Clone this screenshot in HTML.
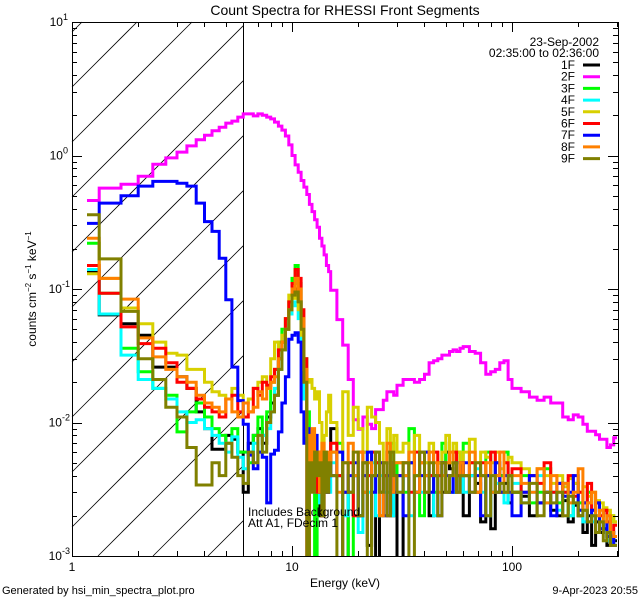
<!DOCTYPE html>
<html><head><meta charset="utf-8"><style>
html,body{margin:0;padding:0;background:#fff;overflow:hidden;width:640px;height:600px}
svg{display:block;overflow:hidden;font-family:"Liberation Sans",sans-serif}
</style></head><body>
<svg id="chart" width="640" height="600" viewBox="0 0 640 600">
<rect width="640" height="600" fill="#fff"/>
<text x="345" y="15" font-size="14" text-anchor="middle">Count Spectra for RHESSI Front Segments</text>
<g id="hatch"></g>
<g id="series"></g>
<g id="axes"></g>
<text x="248" y="516" font-size="12">Includes Background</text>
<text x="248" y="527" font-size="12">Att A1, FDecim 1</text>
<text x="345" y="587" font-size="12" text-anchor="middle">Energy (keV)</text>
<text transform="translate(36,289) rotate(-90)" font-size="12" text-anchor="middle">counts cm<tspan dy="-5" font-size="8">−2</tspan><tspan dy="5"> s</tspan><tspan dy="-5" font-size="8">−1</tspan><tspan dy="5"> keV</tspan><tspan dy="-5" font-size="8">−1</tspan></text>
<text x="2" y="594" font-size="11">Generated by hsi_min_spectra_plot.pro</text>
<text x="638" y="594" font-size="11" text-anchor="end">9-Apr-2023 20:55</text>
<g id="legend">
<text x="599" y="46" font-size="12" text-anchor="end">23-Sep-2002</text>
<text x="599" y="57" font-size="12" text-anchor="end">02:35:00 to 02:36:00</text>
</g>
</svg>
<script>
const edges=[1.17,1.33,1.67,2,2.33,2.67,3,3.33,3.67,4,4.33,4.67,5,5.33,5.67,6,6.33,6.67,7,7.33,7.67,8,8.33,8.67,9,9.33,9.67,10,10.33,10.67,11,11.33,11.67,12,12.33,12.67,13,13.33,13.67,14,14.33,14.67,15,
16,17,18,19,20,21,22,23,24,25,26,27,28,29,30,
32,34,36,38,40,42,44,46,48,50,52,54,56,58,60,
64,68,72,76,80,84,88,92,96,100,
110,120,130,140,150,160,170,180,190,200,210,220,230,240,250,260,270,280,290,300];
const seriesNames=["1F","2F","3F","4F","5F","6F","7F","8F","9F"];
const seriesColors=["#000000","#ff00ff","#00ff00","#00ffff","#d8d000","#ff0000","#0000ff","#ff8000","#808000"];
const yTickExps=[1,0,-1,-2,-3];
const xTickLabels=[1,10,100];
const s1F=[0.136,0.064,0.055,0.045,0.026,0.026,0.022,0.018,0.012,0.009,0.0063,0.0063,0.008,0.0075,0.006,
0.003,0.007,0.008,0.009,0.007,0.011,0.014,0.016,0.03,0.04,0.05,0.07,0.09,0.1,0.08,0.06,0.02,0.008,0.004,0.006,0.003,0.005,0.002,0.006,0.004,0.003,0.005,
0.009,0.004,0.0008,0.003,0.004,0.002,0.005,0.0012,0.004,0.0006,0.003,0.005,0.006,0.002,0.004,
0.0008,0.004,0.005,0.003,0.006,0.004,0.002,0.004,0.005,0.003,0.006,0.0045,0.003,0.004,0.005,
0.002,0.004,0.0035,0.0018,0.004,0.0016,0.003,0.004,0.0035,0.0025,
0.003,0.0028,0.002,0.0025,0.003,0.0022,0.002,0.0026,0.0018,0.0024,0.002,0.0015,0.002,0.0012,0.0018,0.0015,0.0016,0.0012,0.0014,0.0013];
const s2F=[0.46,0.57,0.61,0.70,0.86,0.96,1.06,1.18,1.31,1.42,1.53,1.63,1.75,1.81,1.94,
2.05,2.05,1.98,2.05,2.0,1.94,1.88,1.78,1.66,1.55,1.40,1.20,1.0,0.85,0.75,0.65,0.58,0.51,0.43,0.38,0.33,0.29,0.24,0.21,0.18,0.15,0.135,
0.098,0.059,0.038,0.021,0.0105,0.0089,0.011,0.0097,0.009,0.0125,0.0125,0.0147,0.017,0.017,0.016,
0.019,0.021,0.021,0.02,0.021,0.023,0.028,0.029,0.030,0.032,0.032,0.034,0.035,0.034,0.036,
0.037,0.034,0.033,0.028,0.023,0.024,0.025,0.028,0.029,0.021,
0.018,0.017,0.0155,0.0147,0.0155,0.014,0.014,0.011,0.0105,0.0114,0.011,0.0097,0.0086,0.0086,0.0081,0.0075,0.0075,0.0065,0.0068,0.0077];
const s3F=[0.22,0.093,0.036,0.024,0.018,0.016,0.0085,0.012,0.014,0.011,0.009,0.008,0.007,0.009,0.006,
0.006,0.005,0.008,0.011,0.008,0.012,0.02,0.025,0.04,0.05,0.06,0.08,0.12,0.15,0.11,0.06,0.03,0.012,0.008,0.006,0.0007,0.003,0.006,0.004,0.003,0.005,0.004,
0.006,0.007,0.003,0.0009,0.004,0.002,0.006,0.004,0.003,0.005,0.002,0.004,0.003,0.007,0.004,
0.005,0.003,0.009,0.004,0.002,0.006,0.004,0.003,0.005,0.007,0.003,0.004,0.005,0.006,0.004,
0.007,0.005,0.003,0.004,0.006,0.003,0.005,0.004,0.006,0.004,
0.003,0.004,0.0025,0.003,0.0045,0.003,0.0025,0.003,0.002,0.0035,0.0025,0.0022,0.003,0.002,0.0025,0.0018,0.0022,0.0015,0.002,0.0018];
const s4F=[0.14,0.065,0.032,0.021,0.018,0.015,0.012,0.010,0.0105,0.009,0.008,0.007,0.006,0.0078,0.0055,
0.0045,0.006,0.007,0.006,0.008,0.009,0.012,0.018,0.025,0.035,0.05,0.065,0.08,0.075,0.06,0.04,0.015,0.009,0.006,0.005,0.003,0.004,0.0025,0.005,0.003,0.004,0.003,
0.005,0.004,0.002,0.003,0.004,0.0015,0.004,0.003,0.005,0.002,0.004,0.003,0.004,0.002,0.004,
0.003,0.004,0.002,0.004,0.003,0.005,0.003,0.002,0.004,0.005,0.003,0.004,0.003,0.005,0.004,
0.003,0.004,0.0045,0.003,0.002,0.004,0.0035,0.003,0.0025,0.004,
0.0035,0.0025,0.003,0.004,0.0025,0.003,0.0022,0.0035,0.002,0.0025,0.0022,0.0018,0.0025,0.0018,0.002,0.0016,0.0018,0.0013,0.0015,0.0012];
const s5F=[0.13,0.12,0.072,0.055,0.040,0.033,0.032,0.025,0.025,0.02,0.017,0.016,0.015,0.018,0.016,
0.014,0.015,0.018,0.02,0.022,0.018,0.03,0.04,0.035,0.045,0.06,0.09,0.085,0.09,0.07,0.045,0.025,0.02,0.021,0.018,0.015,0.017,0.01,0.006,0.008,0.012,0.016,
0.01,0.006,0.017,0.008,0.013,0.009,0.006,0.013,0.011,0.01,0.007,0.005,0.009,0.006,0.008,
0.006,0.007,0.005,0.008,0.006,0.005,0.007,0.006,0.005,0.006,0.008,0.005,0.007,0.006,0.005,
0.006,0.0075,0.005,0.006,0.0055,0.005,0.006,0.0045,0.005,0.0055,
0.005,0.0045,0.004,0.0045,0.004,0.0035,0.004,0.0033,0.0038,0.0035,0.003,0.0033,0.0028,0.003,0.0026,0.0025,0.0023,0.0022,0.002,0.0018];
const s6F=[0.15,0.093,0.052,0.039,0.036,0.028,0.02,0.018,0.015,0.013,0.012,0.011,0.015,0.016,0.012,
0.011,0.012,0.018,0.016,0.02,0.019,0.022,0.025,0.035,0.04,0.06,0.08,0.11,0.14,0.12,0.07,0.03,0.0008,0.006,0.004,0.005,0.003,0.006,0.002,0.005,0.003,0.004,
0.007,0.004,0.003,0.005,0.002,0.006,0.003,0.004,0.006,0.005,0.003,0.004,0.002,0.005,0.004,
0.004,0.005,0.003,0.006,0.005,0.003,0.004,0.006,0.004,0.005,0.003,0.004,0.006,0.004,0.005,
0.004,0.005,0.003,0.005,0.004,0.006,0.004,0.003,0.005,0.004,
0.0045,0.003,0.004,0.0035,0.005,0.003,0.0035,0.003,0.004,0.0028,0.003,0.0025,0.0035,0.0022,0.0025,0.002,0.0022,0.0018,0.0015,0.0017];
const s7F=[0.31,0.44,0.50,0.59,0.64,0.64,0.62,0.59,0.44,0.32,0.27,0.17,0.083,0.026,0.0146,
0.0097,0.0057,0.0045,0.006,0.0055,0.0025,0.0058,0.0062,0.0085,0.014,0.022,0.042,0.045,0.047,0.04,0.012,0.007,0.009,0.006,0.004,0.008,0.005,0.003,0.006,0.004,0.003,0.005,
0.004,0.006,0.003,0.004,0.005,0.002,0.004,0.006,0.003,0.004,0.005,0.002,0.004,0.005,0.003,
0.004,0.002,0.005,0.003,0.004,0.006,0.003,0.004,0.002,0.005,0.004,0.003,0.005,0.003,0.004,
0.005,0.003,0.004,0.002,0.004,0.003,0.005,0.003,0.004,0.003,
0.002,0.003,0.004,0.0025,0.003,0.002,0.0035,0.0028,0.003,0.004,0.0022,0.0025,0.0018,0.0022,0.0025,0.0016,0.0018,0.0014,0.0015,0.0012];
const s8F=[0.24,0.12,0.084,0.043,0.031,0.025,0.022,0.02,0.016,0.014,0.013,0.012,0.015,0.012,0.011,
0.014,0.012,0.013,0.017,0.015,0.018,0.02,0.022,0.03,0.04,0.05,0.07,0.1,0.12,0.1,0.06,0.025,0.008,0.005,0.009,0.004,0.006,0.003,0.007,0.004,0.006,0.005,
0.006,0.003,0.005,0.007,0.004,0.006,0.003,0.005,0.004,0.006,0.002,0.005,0.007,0.003,0.005,
0.005,0.004,0.006,0.003,0.005,0.004,0.006,0.005,0.003,0.004,0.005,0.006,0.004,0.003,0.005,
0.004,0.006,0.003,0.004,0.005,0.003,0.004,0.006,0.003,0.004,
0.004,0.0035,0.003,0.0045,0.0025,0.004,0.003,0.0035,0.0025,0.003,0.0045,0.0022,0.0025,0.003,0.002,0.0022,0.0018,0.002,0.0015,0.0014];
const s9F=[0.36,0.168,0.068,0.030,0.021,0.013,0.011,0.0065,0.0034,0.0034,0.005,0.004,0.007,0.0055,0.004,
0.0035,0.006,0.005,0.008,0.006,0.01,0.012,0.016,0.025,0.035,0.05,0.07,0.09,0.095,0.08,0.05,0.02,0.0007,0.005,0.003,0.006,0.004,0.005,0.002,0.006,0.003,0.005,
0.004,0.0006,0.005,0.003,0.006,0.002,0.005,0.0007,0.004,0.006,0.003,0.005,0.002,0.006,0.004,
0.003,0.005,0.0007,0.004,0.006,0.003,0.005,0.004,0.002,0.005,0.003,0.004,0.005,0.003,0.004,
0.004,0.003,0.005,0.004,0.002,0.004,0.003,0.0035,0.003,0.004,
0.003,0.0025,0.0035,0.002,0.003,0.0025,0.003,0.002,0.0028,0.0025,0.002,0.0022,0.0018,0.002,0.0015,0.0018,0.0013,0.0015,0.0012,0.0012];
const allSeries=[s1F,s2F,s3F,s4F,s5F,s6F,s7F,s8F,s9F];

const L=72,R=618,T=22,B=556;
const xMin=1,xMax=Math.pow(10,(R-L)/220);
const yMinE=-3,yMaxE=1;
function xs(e){return L+(Math.log10(e)-Math.log10(xMin))/(Math.log10(xMax)-Math.log10(xMin))*(R-L);}
function ys(v){return T+(yMaxE-Math.log10(v))/(yMaxE-yMinE)*(B-T);}
const NS="http://www.w3.org/2000/svg";
function mk(tag,attrs,parent){const el=document.createElementNS(NS,tag);for(const k in attrs)el.setAttribute(k,attrs[k]);parent.appendChild(el);return el;}
const svg=document.getElementById('chart');
const defs=mk('defs',{},svg);
const cp=mk('clipPath',{id:'plotclip'},defs);
mk('rect',{x:L,y:T,width:R-L,height:B-T},cp);

const hg=document.getElementById('hatch');
const X6=xs(6);
for(let c=489-55*10;c<=489+55*8;c+=55){
  const xa=Math.max(L,c-B), xb=Math.min(X6,c-T);
  if(xb<=xa) continue;
  const ln=mk('line',{x1:xa,y1:c-xa,x2:xb,y2:c-xb,stroke:'#000','stroke-width':0.8},hg);
  
  
}
const vx=Math.round(X6)+0.5;
const vl=mk('line',{x1:vx,y1:T,x2:vx,y2:B,stroke:'#000','stroke-width':1,'shape-rendering':'crispEdges'},hg);



const sg=document.getElementById('series');
sg.setAttribute('clip-path','url(#plotclip)');
allSeries.forEach((vals,si)=>{
  let d='';
  for(let i=0;i<vals.length;i++){
    const v=Math.max(vals[i],2e-4);
    const x0=xs(edges[i]),x1=xs(edges[i+1]),y=Math.min(ys(v),B+4);
    d+=(i===0?'M':'L')+x0.toFixed(1)+','+y.toFixed(1)+'L'+x1.toFixed(1)+','+y.toFixed(1);
  }
  const p=mk('path',{d:d,fill:'none',stroke:seriesColors[si],'stroke-width':3,'stroke-linejoin':'miter'},sg);
  
  
});

const ag=document.getElementById('axes');
const fr=mk('rect',{x:L+0.5,y:T+0.5,width:R-L,height:B-T,fill:'none',stroke:'#000','stroke-width':1,'shape-rendering':'crispEdges'},ag);


for(let e=yMinE;e<yMaxE;e++){
  for(let m=1;m<10;m++){
    const v=m*Math.pow(10,e);const y=Math.round(ys(v))+0.5;const len=m===1?10:5;
    mk('line',{x1:L,y1:y,x2:L+len,y2:y,stroke:'#000','shape-rendering':'crispEdges'},ag);
    mk('line',{x1:R,y1:y,x2:R-len,y2:y,stroke:'#000','shape-rendering':'crispEdges'},ag);
  }
}
yTickExps.forEach(e=>{
  const y=ys(Math.pow(10,e));
  const t=mk('text',{x:L-4,y:y+4,'font-size':12,'text-anchor':'end'},ag);
  
  
  t.innerHTML='10<tspan dy="-6" font-size="9">'+e+'</tspan>';
  if(e!==1&&e!==0)t.setAttribute('x',L-2);
});
for(let e=0;e<3;e++){
  for(let m=1;m<10;m++){
    const v=m*Math.pow(10,e);if(v>xMax)break;const x=Math.round(xs(v))+0.5;const len=m===1?10:5;
    mk('line',{x1:x,y1:B,x2:x,y2:B-len,stroke:'#000','shape-rendering':'crispEdges'},ag);
    mk('line',{x1:x,y1:T,x2:x,y2:T+len,stroke:'#000','shape-rendering':'crispEdges'},ag);
  }
}
xTickLabels.forEach(v=>{
  const t=mk('text',{x:xs(v),y:B+15,'font-size':12,'text-anchor':'middle'},ag);
  
  
  t.textContent=String(v);
});

const lg=document.getElementById('legend');
seriesNames.forEach((n,i)=>{
  const y=65+i*11.7;
  const t=mk('text',{x:575,y:y+4,'font-size':12,'text-anchor':'end'},lg);
  
  
  t.textContent=n;
  const l=mk('line',{x1:583,y1:y,x2:600,y2:y,stroke:seriesColors[i],'stroke-width':3},lg);
  
  
});
</script>
</body></html>
